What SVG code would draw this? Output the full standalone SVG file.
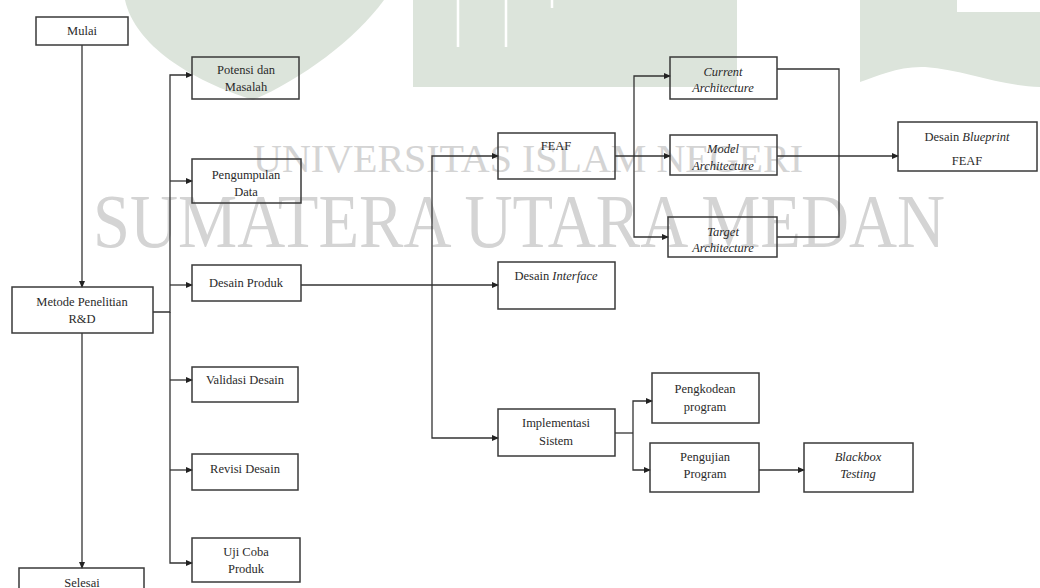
<svg xmlns="http://www.w3.org/2000/svg" width="1040" height="588" viewBox="0 0 1040 588">
<defs>
<style>
.box{fill:none;stroke:#3a3a3a;stroke-width:1.5}
.ln{fill:none;stroke:#333;stroke-width:1.3}
.t{font-family:"Liberation Serif","Times New Roman",serif;font-size:12.5px;fill:#2a2a2a;text-anchor:middle}
.i{font-style:italic}
.wm{font-family:"Liberation Serif","Times New Roman",serif;fill:#d4d4d4}
.g{fill:#dce4db}
</style>
<marker id="arr" markerWidth="7" markerHeight="7" refX="6" refY="3.5" orient="auto" markerUnits="userSpaceOnUse">
<path d="M0,0.5 L7,3.5 L0,6.5 Z" fill="#222"/>
</marker>
</defs>
<rect width="1040" height="588" fill="#ffffff"/>
<g id="watermark">
<path class="g" d="M125,0 C135,45 190,80 253,100 C300,80 355,40 384,0 Z"/>
<rect class="g" x="413" y="0" width="324" height="87"/>
<path d="M458,0 V47 M506,0 V47 M552,0 V8" stroke="#ffffff" stroke-width="2.5"/>
<path class="g" d="M860,0 L957,0 L957,12 L1040,12 L1040,87 C1000,86 965,70 925,67 C898,66 878,76 860,82 Z"/>
<text class="wm" x="253" y="172" font-size="40" textLength="550" lengthAdjust="spacingAndGlyphs">UNIVERSITAS ISLAM NEGERI</text>
<text class="wm" x="93" y="247" font-size="76" textLength="852" lengthAdjust="spacingAndGlyphs">SUMATERA UTARA MEDAN</text>
</g>
<g id="connectors">
<path class="ln" d="M82,45 V287" marker-end="url(#arr)"/>
<path class="ln" d="M82,333 V568" marker-end="url(#arr)"/>
<path class="ln" d="M153,312 H170 V75 H192" marker-end="url(#arr)"/>
<path class="ln" d="M170,312 V563 H192" marker-end="url(#arr)"/>
<path class="ln" d="M170,181 H192" marker-end="url(#arr)"/>
<path class="ln" d="M170,285 H192" marker-end="url(#arr)"/>
<path class="ln" d="M170,380 H192" marker-end="url(#arr)"/>
<path class="ln" d="M170,470 H192" marker-end="url(#arr)"/>
<path class="ln" d="M301,285 H498" marker-end="url(#arr)"/>
<path class="ln" d="M432,285 V156 H498" marker-end="url(#arr)"/>
<path class="ln" d="M432,285 V438 H498" marker-end="url(#arr)"/>
<path class="ln" d="M615,156 H670" marker-end="url(#arr)"/>
<path class="ln" d="M634,156 V76 H670" marker-end="url(#arr)"/>
<path class="ln" d="M634,156 V237 H668" marker-end="url(#arr)"/>
<path class="ln" d="M777,69 H839 V237 H777"/>
<path class="ln" d="M777,156 H898" marker-end="url(#arr)"/>
<path class="ln" d="M615,433 H633"/>
<path class="ln" d="M633,433 V401 H652" marker-end="url(#arr)"/>
<path class="ln" d="M633,433 V470 H650" marker-end="url(#arr)"/>
<path class="ln" d="M759,470 H804" marker-end="url(#arr)"/>
</g>
<g id="mulai"><rect class="box" x="36" y="17" width="92" height="28"/><text class="t" x="82" y="35">Mulai</text></g>
<g id="metode"><rect class="box" x="12" y="287" width="141" height="46"/><text class="t" x="82" y="306">Metode Penelitian</text><text class="t" x="82" y="323">R&amp;D</text></g>
<g id="selesai"><rect class="box" x="19" y="568" width="125" height="30"/><text class="t" x="82" y="587">Selesai</text></g>
<g id="potensi"><rect class="box" x="192" y="57" width="107" height="42"/><text class="t" x="246" y="74">Potensi dan</text><text class="t" x="246" y="91">Masalah</text></g>
<g id="pengumpulan"><rect class="box" x="192" y="159" width="109" height="44"/><text class="t" x="246" y="179">Pengumpulan</text><text class="t" x="246" y="196">Data</text></g>
<g id="desain-produk"><rect class="box" x="192" y="265" width="109" height="36"/><text class="t" x="246" y="287">Desain Produk</text></g>
<g id="validasi"><rect class="box" x="192" y="367" width="106" height="35"/><text class="t" x="245" y="384">Validasi Desain</text></g>
<g id="revisi"><rect class="box" x="192" y="454" width="106" height="36"/><text class="t" x="245" y="473">Revisi Desain</text></g>
<g id="uji-coba"><rect class="box" x="192" y="538" width="108" height="44"/><text class="t" x="246" y="556">Uji Coba</text><text class="t" x="246" y="573">Produk</text></g>
<g id="feaf"><rect class="box" x="498" y="133" width="117" height="46"/><text class="t" x="556" y="150">FEAF</text></g>
<g id="desain-interface"><rect class="box" x="498" y="262" width="117" height="47"/><text class="t" x="556" y="280">Desain <tspan class="i">Interface</tspan></text></g>
<g id="implementasi"><rect class="box" x="498" y="409" width="117" height="47"/><text class="t" x="556" y="427">Implementasi</text><text class="t" x="556" y="445">Sistem</text></g>
<g id="current"><rect class="box" x="670" y="57" width="107" height="42"/><text class="t i" x="723" y="76">Current</text><text class="t i" x="723" y="92">Architecture</text></g>
<g id="model"><rect class="box" x="670" y="135" width="107" height="40"/><text class="t i" x="723" y="153">Model</text><text class="t i" x="723" y="170">Architecture</text></g>
<g id="target"><rect class="box" x="668" y="217" width="109" height="40"/><text class="t i" x="723" y="236">Target</text><text class="t i" x="723" y="252">Architecture</text></g>
<g id="blueprint"><rect class="box" x="898" y="122" width="139" height="49"/><text class="t" x="967" y="141">Desain <tspan class="i">Blueprint</tspan></text><text class="t" x="967" y="165">FEAF</text></g>
<g id="pengkodean"><rect class="box" x="652" y="373" width="107" height="50"/><text class="t" x="705" y="393">Pengkodean</text><text class="t" x="705" y="411">program</text></g>
<g id="pengujian"><rect class="box" x="650" y="443" width="109" height="49"/><text class="t" x="705" y="461">Pengujian</text><text class="t" x="705" y="478">Program</text></g>
<g id="blackbox"><rect class="box" x="804" y="443" width="109" height="49"/><text class="t i" x="858" y="461">Blackbox</text><text class="t i" x="858" y="478">Testing</text></g>
</svg>
